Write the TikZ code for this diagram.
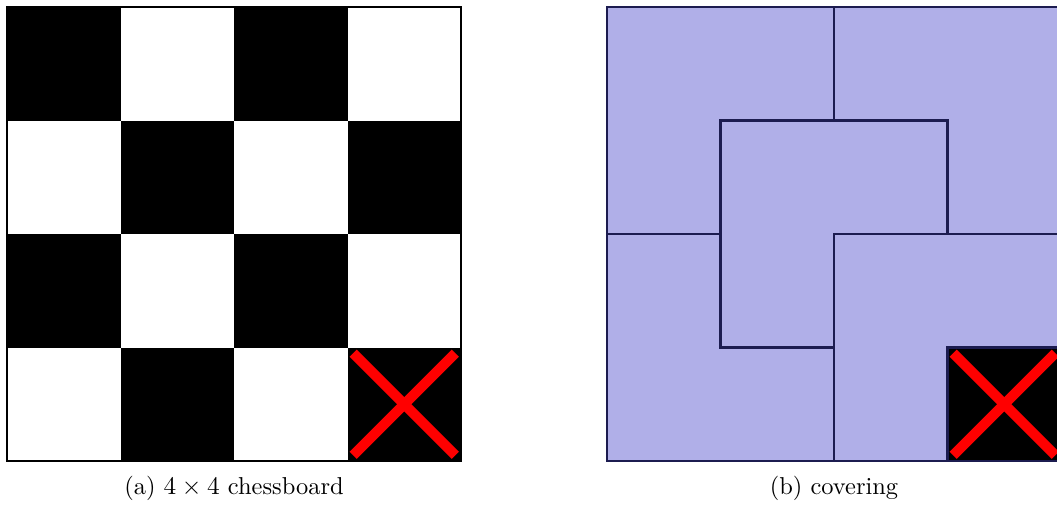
\documentclass[tikz,border=0pt]{standalone}
\usepackage{tikz}
\usetikzlibrary{positioning}
\usepackage{xcolor}
\definecolor{tilefill}{RGB}{176,175,232}
\definecolor{tileline}{RGB}{28,28,80}
\definecolor{crossred}{RGB}{255,0,0}

\begin{document}
\begin{tikzpicture}[x=1.73cm, y=1.73cm,
    tileline/.style={draw=tileline, line width=0.9pt, line join=miter},
    crossline/.style={crossred, line width=4.4pt},
    caption/.style={font=\fontsize{10.6}{12}\selectfont}]
  \useasboundingbox (-0.0617,-0.414) rectangle (9.251,4.0617);
  % chessboard
  \foreach \i in {0,...,3} {
    \foreach \j in {0,...,3} {
      \pgfmathtruncatemacro{\parity}{mod(\i+\j,2)}
      \ifnum\parity=1
        \fill[black] (\i,\j) rectangle ++(1,1);
      \fi
    }
  }
  \draw[line width=1.1pt] (0,0) rectangle (4,4);
  \draw[crossline] (3.05,0.05) -- (3.95,0.95);
  \draw[crossline] (3.05,0.95) -- (3.95,0.05);
  \node[caption] (capa) at (2,-0.24) {(a) $4\times4$ chessboard};
  % covering
  \begin{scope}[shift={(5.286,0)}]
    \fill[tilefill] (0,0) rectangle (4,4);
    \fill[black] (3,0) rectangle (4,1);
    % tromino edges
    \draw[tileline] (2,4) -- (2,3) -- (1,3) -- (1,2) -- (0,2);
    \draw[tileline] (2,3) -- (3,3) -- (3,2) -- (4,2);
    \draw[tileline] (3,2) -- (2,2) -- (2,1) -- (1,1) -- (1,2);
    \draw[tileline] (2,2) -- (2,0);
    \draw[tileline] (3,0) -- (3,1) -- (4,1);
    \draw[tileline, line width=1.1pt] (0,0) rectangle (4,4);
    \draw[crossline] (3.05,0.05) -- (3.95,0.95);
    \draw[crossline] (3.05,0.95) -- (3.95,0.05);
    \node[caption] (capb) at (2,-0.24) {(b) covering};
  \end{scope}
\end{tikzpicture}
\end{document}
